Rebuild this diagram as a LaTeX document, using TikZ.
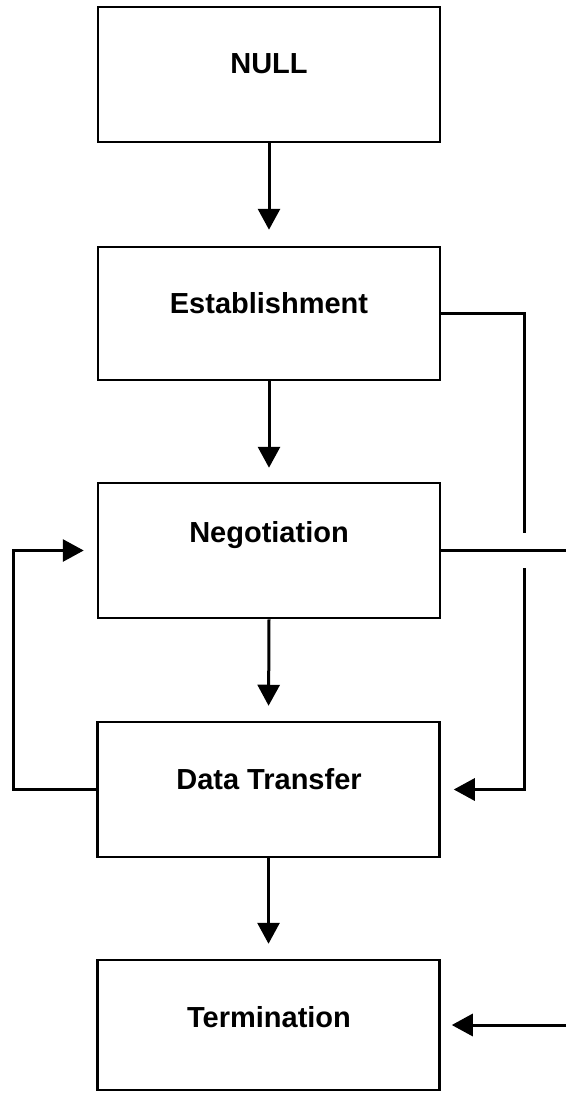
\documentclass[tikz,border=0pt]{standalone}
\usepackage{fontspec}
\setmainfont{Liberation Sans}
\usetikzlibrary{arrows.meta}
\begin{document}
\begin{tikzpicture}[x=1pt,y=-1pt,
  statebox/.style={draw=black,line width=2.5pt,rectangle,inner sep=0pt,minimum width=342pt},
  lbl/.style={anchor=base,inner sep=0pt,font=\fontsize{29}{34}\selectfont\bfseries},
  conn/.style={line width=3pt},
  arr/.style={line width=3pt,-{Triangle[length=21pt,width=22pt]}}]
\useasboundingbox (0,0) rectangle (566,1094);
% boxes
\node[statebox,minimum height=135pt] (null) at (269,74.5) {};
\node[statebox,minimum height=133pt] (est) at (269,313.5) {};
\node[statebox,minimum height=135pt] (neg) at (269,550.5) {};
\node[statebox,minimum height=135pt] (dt) at (268.5,789.5) {};
\node[statebox,minimum height=130pt] (term) at (268.5,1025) {};
% labels
\node[lbl] (nullt) at (269,74) {NULL};
\node[lbl] (estt) at (269,313) {Establishment};
\node[lbl] (negt) at (269,542) {Negotiation};
\node[lbl] (dtt) at (269,789) {Data Transfer};
\node[lbl] (termt) at (269,1027) {Termination};
% helper coordinates
\coordinate (rx) at (524,0);
\coordinate (edge) at (566,0);
\coordinate (lx) at (13,0);
\coordinate (gapa) at (524,533);
\coordinate (gapb) at (524,568);
% vertical arrows
\draw[arr,shorten >=16pt] (null.south) -- (est.north);
\draw[arr,shorten >=14pt] (est.south) -- (neg.north);
\draw[arr,shorten >=15pt] (neg.south) -- (dt.north);
\draw[arr,shorten >=15pt] (dt.south) -- (term.north);
% right side
\draw[conn] (est.east) -- (est.east -| rx) -- (gapa);
\draw[arr,shorten >=13pt] (gapb) -- (gapb |- dt.east) -- (dt.east);
\draw[conn] (neg.east) -- (neg.east -| edge);
\draw[arr,shorten >=11pt] (term.east -| edge) -- (term.east);
% left loop
\draw[arr,shorten >=13pt] (dt.west) -- (dt.west -| lx) -- (neg.west -| lx) -- (neg.west);
\end{tikzpicture}
\end{document}
